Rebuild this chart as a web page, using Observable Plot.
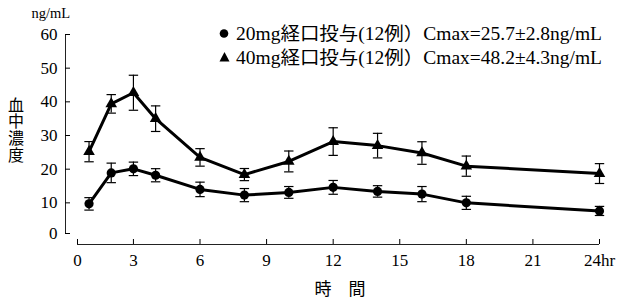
<!DOCTYPE html>
<html><head><meta charset="utf-8">
<script src="https://cdn.jsdelivr.net/npm/d3@7"></script>
<script src="https://cdn.jsdelivr.net/npm/@observablehq/plot@0.6"></script>
<style>
html,body{margin:0;padding:0;background:#fff;}
#chart{width:622px;height:303px;}
</style>
</head><body><div id="chart"></div>
<script>
// ---- data ----
const times = [1, 2, 3, 4, 6, 8, 10, 12, 14, 16, 18, 24];
const mean20 = [9.7, 18.9, 20.1, 18.2, 14.0, 12.3, 13.1, 14.6, 13.4, 12.6, 10.0, 7.6];
const sd20   = [1.85, 2.9, 2.0, 1.95, 2.15, 1.95, 1.75, 2.05, 1.7, 2.25, 1.95, 1.35];
const mean40 = [25.2, 39.4, 42.7, 35.0, 23.5, 18.4, 22.3, 28.2, 27.0, 24.8, 20.9, 18.7];
const sd40   = [3.0, 2.75, 5.2, 3.8, 2.6, 1.8, 3.1, 4.1, 3.65, 3.35, 3.0, 2.95];
const xTicks = [0, 3, 6, 9, 12, 15, 18, 21, 24];
const yTicks = [0, 10, 20, 30, 40, 50, 60];
const seriesLabels = ["20mg経口投与(12例）Cmax=25.7±2.8ng/mL", "40mg経口投与(12例）Cmax=48.2±4.3ng/mL"];
const yUnit = "ng/mL";
const yTitle = ["血", "中", "濃", "度"];
const xTitle = "時　間";

const s20 = times.map((t, i) => ({t, v: mean20[i], sd: sd20[i]}));
const s40 = times.map((t, i) => ({t, v: mean40[i], sd: sd40[i]}));
const all = s20.concat(s40);

const xDomain = [0.48, 24];
const yDomain = [0.9, 60];
const FONT = "'Liberation Serif', 'Noto Sans CJK JP', serif";

const cap = {draw(ctx) { ctx.moveTo(-4.7, 0); ctx.lineTo(4.7, 0); }};

const chart = Plot.plot({
  width: 622, height: 303,
  marginLeft: 65, marginRight: 23, marginTop: 34, marginBottom: 59,
  style: {fontFamily: FONT, fontSize: "17px", color: "#000", background: "#fff"},
  x: {domain: xDomain, clamp: true, insetLeft: 12},
  y: {domain: yDomain, clamp: true, insetBottom: 11},
  marks: [
    Plot.ruleX([xDomain[0]], {y1: yDomain[0], y2: 60, dx: -12, stroke: "#222", strokeWidth: 1}),
    Plot.ruleY([yDomain[0]], {x1: xDomain[0], x2: 24, dy: 11, stroke: "#222", strokeWidth: 1}),
    Plot.axisY({ticks: yTicks, tickSize: -5, tickPadding: 13, label: null, fontSize: 17}),
    Plot.axisX({ticks: xTicks, tickSize: -5, tickPadding: 14, label: null, fontSize: 17,
      tickFormat: d => d === 24 ? "24hr" : String(d)}),
    Plot.ruleX(all, {x: "t", y1: d => d.v - d.sd, y2: d => d.v + d.sd, stroke: "#000", strokeWidth: 1.2}),
    Plot.dot(all, {x: "t", y: d => d.v + d.sd, symbol: cap, stroke: "#000", strokeWidth: 1.2, fill: "none"}),
    Plot.dot(all, {x: "t", y: d => d.v - d.sd, symbol: cap, stroke: "#000", strokeWidth: 1.2, fill: "none"}),
    Plot.line(s20, {x: "t", y: "v", stroke: "#000", strokeWidth: 3}),
    Plot.line(s40, {x: "t", y: "v", stroke: "#000", strokeWidth: 3}),
    Plot.dot(s20, {x: "t", y: "v", r: 4.6, fill: "#000", stroke: "none"}),
    Plot.dot(s40, {x: "t", y: "v", r: 4.3, symbol: "triangle", fill: "#000", stroke: "none"})
  ]
});
document.getElementById("chart").appendChild(chart);

// ---- annotations (legend, titles) ----
const svg = d3.select(chart);
const g = svg.append("g").attr("font-family", FONT).attr("fill", "#000").attr("text-anchor", "start");
g.append("circle").attr("cx", 224).attr("cy", 33.5).attr("r", 4.3);
g.append("path").attr("d", "M224.5,52 L229.5,61.5 L219.5,61.5 Z");
g.append("text").attr("x", 236).attr("y", 39.5).attr("font-size", 18)
  .attr("textLength", 366).attr("lengthAdjust", "spacingAndGlyphs").text(seriesLabels[0]);
g.append("text").attr("x", 236).attr("y", 63.5).attr("font-size", 18)
  .attr("textLength", 366).attr("lengthAdjust", "spacingAndGlyphs").text(seriesLabels[1]);
g.append("text").attr("x", 31.5).attr("y", 18).attr("font-size", 14.5).text(yUnit);
yTitle.forEach((c, i) => {
  g.append("text").attr("x", 16).attr("y", 105 + i * 16.7).attr("font-size", 16)
    .attr("text-anchor", "middle").attr("dominant-baseline", "central").text(c);
});
g.append("text").attr("x", 340).attr("y", 289.5).attr("font-size", 17)
  .attr("text-anchor", "middle").attr("dominant-baseline", "central").text(xTitle);
</script>
</body></html>
